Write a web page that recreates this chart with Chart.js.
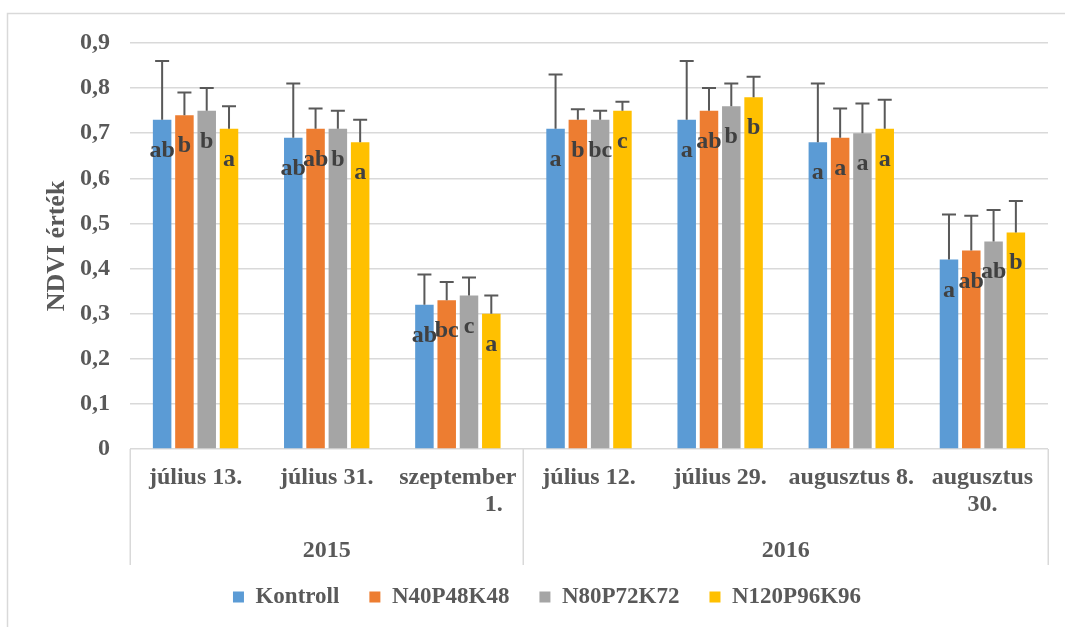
<!DOCTYPE html>
<html>
<head>
<meta charset="utf-8">
<title>NDVI érték</title>
<script src="https://cdn.jsdelivr.net/npm/chart.js@4.4.1/dist/chart.umd.min.js"></script>
<style>
  html, body { margin: 0; padding: 0; background: #fff; }
  #wrap { width: 1065px; height: 627px; position: relative; }
</style>
</head>
<body>
<div id="wrap"><canvas id="c"></canvas></div>
<script>
// Sampling dates (second line where the label wraps; the "1." line sits to the right)
const categories = [
  ['július 13.'], ['július 31.'], ['szeptember', '            1.'],
  ['július 12.'], ['július 29.'], ['augusztus 8.'], ['augusztus', '30.']
];
// Year groups: label, first and last category index
const years = ['2015', '2016'];
const yearStart = [0, 3];
const yearEnd = [2, 6];

const seriesNames = ['Kontroll', 'N40P48K48', 'N80P72K72', 'N120P96K96'];

// Mean NDVI per treatment
const kontroll = [0.73, 0.69, 0.32, 0.71, 0.73, 0.68, 0.42];
const n40 = [0.74, 0.71, 0.33, 0.73, 0.75, 0.69, 0.44];
const n80 = [0.75, 0.71, 0.34, 0.73, 0.76, 0.70, 0.46];
const n120 = [0.71, 0.68, 0.30, 0.75, 0.78, 0.71, 0.48];

// Standard deviation (plus side)
const kontrollErr = [0.13, 0.12, 0.067, 0.12, 0.13, 0.13, 0.10];
const n40Err = [0.05, 0.045, 0.04, 0.023, 0.05, 0.065, 0.077];
const n80Err = [0.05, 0.04, 0.04, 0.02, 0.05, 0.066, 0.07];
const n120Err = [0.05, 0.05, 0.04, 0.02, 0.045, 0.064, 0.07];

// Significance letters
const kontrollSig = ['ab', 'ab', 'ab', 'a', 'a', 'a', 'a'];
const n40Sig = ['b', 'ab', 'bc', 'b', 'ab', 'a', 'ab'];
const n80Sig = ['b', 'b', 'c', 'bc', 'b', 'a', 'ab'];
const n120Sig = ['a', 'a', 'a', 'c', 'b', 'a', 'b'];

const yTickLabels = ['0', '0,1', '0,2', '0,3', '0,4', '0,5', '0,6', '0,7', '0,8', '0,9'];

const colors = ['#5B9BD5', '#ED7D31', '#A5A5A5', '#FFC000'];
const SERIF = '"Liberation Serif", "Times New Roman", serif';
const TEXT = '#595959';
const GRID = '#d9d9d9';

const values = [kontroll, n40, n80, n120];
const errors = [kontrollErr, n40Err, n80Err, n120Err];
const letters = [kontrollSig, n40Sig, n80Sig, n120Sig];

// Chart background and outer frame
const frame = {
  id: 'frame',
  beforeDraw(chart) {
    const ctx = chart.ctx;
    ctx.save();
    ctx.fillStyle = '#fff';
    ctx.fillRect(0, 0, chart.width, chart.height);
    ctx.strokeStyle = GRID;
    ctx.lineWidth = 1.5;
    ctx.beginPath();
    ctx.moveTo(7.5, chart.height);
    ctx.lineTo(7.5, 13.5);
    ctx.lineTo(chart.width, 13.5);
    ctx.stroke();
    ctx.restore();
  }
};

// Plus-only error bars with caps
const errorBars = {
  id: 'errorBars',
  afterDatasetsDraw(chart) {
    const ctx = chart.ctx;
    const y = chart.scales.y;
    ctx.save();
    ctx.strokeStyle = '#595959';
    ctx.lineWidth = 2;
    chart.data.datasets.forEach((ds, i) => {
      chart.getDatasetMeta(i).data.forEach((bar, j) => {
        const top = y.getPixelForValue(ds.data[j] + ds.errors[j]);
        ctx.beginPath();
        ctx.moveTo(bar.x, bar.y);
        ctx.lineTo(bar.x, top);
        ctx.moveTo(bar.x - 7, top);
        ctx.lineTo(bar.x + 7, top);
        ctx.stroke();
      });
    });
    ctx.restore();
  }
};

// Significance letters inside the bar tops
const sigLetters = {
  id: 'sigLetters',
  afterDatasetsDraw(chart) {
    const ctx = chart.ctx;
    ctx.save();
    ctx.font = 'bold 24px ' + SERIF;
    ctx.fillStyle = '#404040';
    ctx.textAlign = 'center';
    ctx.textBaseline = 'alphabetic';
    chart.data.datasets.forEach((ds, i) => {
      chart.getDatasetMeta(i).data.forEach((bar, j) => {
        ctx.fillText(ds.letters[j], bar.x, bar.y + 37);
      });
    });
    ctx.restore();
  }
};

// Year row and group separators under the category axis
const yearAxis = {
  id: 'yearAxis',
  afterDraw(chart) {
    const ctx = chart.ctx;
    const x = chart.scales.x;
    const area = chart.chartArea;
    const bottom = area.bottom + 116;
    ctx.save();
    ctx.strokeStyle = GRID;
    ctx.lineWidth = 1.5;
    const cuts = [area.left, area.right];
    for (let g = 1; g < years.length; g++) {
      cuts.push((x.getPixelForValue(yearEnd[g - 1]) + x.getPixelForValue(yearStart[g])) / 2);
    }
    ctx.beginPath();
    cuts.forEach(cx => {
      ctx.moveTo(Math.round(cx) + 0.25, area.bottom);
      ctx.lineTo(Math.round(cx) + 0.25, bottom);
    });
    ctx.stroke();
    ctx.font = 'bold 24px ' + SERIF;
    ctx.fillStyle = TEXT;
    ctx.textAlign = 'center';
    ctx.textBaseline = 'alphabetic';
    years.forEach((label, g) => {
      const cx = (x.getPixelForValue(yearStart[g]) + x.getPixelForValue(yearEnd[g])) / 2;
      ctx.fillText(label, cx, area.bottom + 108);
    });
    ctx.restore();
  }
};

new Chart(document.getElementById('c'), {
  type: 'bar',
  data: {
    labels: categories,
    datasets: seriesNames.map((name, i) => ({
      label: name,
      data: values[i],
      errors: errors[i],
      letters: letters[i],
      backgroundColor: colors[i],
      borderWidth: 0,
      categoryPercentage: 0.68,
      barPercentage: 0.83
    }))
  },
  options: {
    responsive: true,
    maintainAspectRatio: false,
    animation: false,
    layout: { padding: { top: 43, left: 46, right: 17, bottom: 8.5 } },
    scales: {
      x: {
        grid: { display: false, drawTicks: false },
        border: { display: false },
        ticks: {
          autoSkip: false,
          maxRotation: 0,
          minRotation: 0,
          padding: 16,
          color: TEXT,
          font: { family: SERIF, size: 24, weight: 'bold', lineHeight: 1.1 }
        },
        afterFit(scale) { scale.height = 106.5; }
      },
      y: {
        min: 0,
        max: 0.9,
        ticks: {
          stepSize: 0.1,
          padding: 20,
          color: TEXT,
          font: { family: SERIF, size: 24, weight: 'bold' },
          callback: (v, i) => yTickLabels[i]
        },
        grid: { color: GRID, lineWidth: 1.5, drawTicks: false },
        border: { display: false },
        title: {
          display: true,
          text: 'NDVI érték',
          color: TEXT,
          font: { family: SERIF, size: 26, weight: 'bold', lineHeight: 0.85 },
          padding: { top: 0, bottom: 0 }
        },
        afterFit(scale) { scale.width = 84; }
      }
    },
    plugins: {
      legend: {
        position: 'bottom',
        labels: {
          boxWidth: 11,
          boxHeight: 11,
          padding: 30,
          color: TEXT,
          font: { family: SERIF, size: 23, weight: 'bold' }
        }
      },
      tooltip: { enabled: false }
    }
  },
  plugins: [frame, errorBars, sigLetters, yearAxis]
});
</script>
</body>
</html>
